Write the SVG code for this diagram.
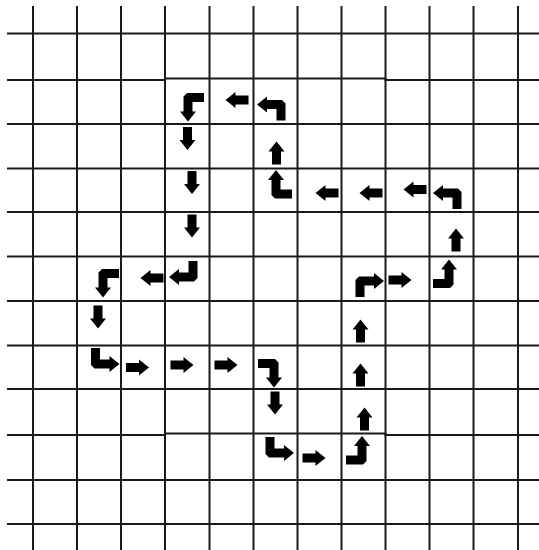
<svg xmlns="http://www.w3.org/2000/svg" xmlns:xlink="http://www.w3.org/1999/xlink" width="539" height="550" viewBox="0 0 539 550">
<style>
.g line, .g polyline { stroke: #1a1a1a; stroke-width: 2; fill: none; }
.a { fill: #000; }
</style>
<defs>
<path id="st" d="M-11.5,-4.5 H1.5 V-8 L11.5,0 L1.5,8 V4.5 H-11.5 Z"/>
<path id="cn" d="M-4.5,-16 H4.5 V-4.5 H14 V-8 L24,0 L14,8 V4.5 H-1 L-4.5,1 Z"/>
</defs>
<rect width="539" height="550" fill="#fff"/>
<g id="grid" class="g">
<line x1="33" y1="6" x2="33" y2="550"/>
<line x1="77" y1="6" x2="77" y2="550"/>
<line x1="121" y1="6" x2="121" y2="550"/>
<line x1="165" y1="6" x2="165" y2="550"/>
<line x1="209.5" y1="6" x2="209.5" y2="550"/>
<line x1="253.5" y1="6" x2="253.5" y2="550"/>
<line x1="297.5" y1="6" x2="297.5" y2="550"/>
<line x1="341.5" y1="6" x2="341.5" y2="550"/>
<line x1="385.5" y1="6" x2="385.5" y2="550"/>
<line x1="429.5" y1="6" x2="429.5" y2="550"/>
<line x1="473.5" y1="6" x2="473.5" y2="550"/>
<line x1="518" y1="6" x2="518" y2="550"/>
<line x1="7" y1="33.5" x2="539" y2="33.5"/>
<polyline points="7,80 165,80 165,78.5 385.5,78.5 385.5,80 539,80"/>
<line x1="7" y1="124" x2="539" y2="124"/>
<line x1="7" y1="168.5" x2="539" y2="168.5"/>
<line x1="7" y1="212" x2="539" y2="212"/>
<line x1="7" y1="256.5" x2="539" y2="256.5"/>
<line x1="7" y1="301" x2="539" y2="301"/>
<line x1="7" y1="345.5" x2="539" y2="345.5"/>
<line x1="7" y1="389" x2="539" y2="389"/>
<polyline points="7,435 165,435 165,433.5 385.5,433.5 385.5,435 539,435"/>
<line x1="7" y1="480" x2="539" y2="480"/>
<line x1="7" y1="524" x2="539" y2="524"/>
</g>
<g id="arrows" class="a">
<g id="r1c5"><use xlink:href="#cn" transform="translate(281,104.5) rotate(180)"/></g>
<g id="r1c4"><use xlink:href="#st" transform="translate(237,100) rotate(180)"/></g>
<g id="r1c3"><use xlink:href="#cn" transform="translate(188,97.5) rotate(90)"/></g>
<g id="r2c3"><use xlink:href="#st" transform="translate(187.5,138.5) rotate(90)"/></g>
<g id="r3c3"><use xlink:href="#st" transform="translate(192,182.5) rotate(90)"/></g>
<g id="r4c3"><use xlink:href="#st" transform="translate(192,226) rotate(90)"/></g>
<g id="r5c3"><use xlink:href="#cn" transform="translate(193,277) scale(-1,1)"/></g>
<g id="r5c2"><use xlink:href="#st" transform="translate(152,278) rotate(180)"/></g>
<g id="r5c1"><use xlink:href="#cn" transform="translate(103,273.5) rotate(90)"/></g>
<g id="r6c1"><use xlink:href="#st" transform="translate(98,317) rotate(90)"/></g>
<g id="r7c1"><use xlink:href="#cn" transform="translate(95.5,364)"/></g>
<g id="r7c2"><use xlink:href="#st" transform="translate(137.5,367.5)"/></g>
<g id="r7c3"><use xlink:href="#st" transform="translate(182,365)"/></g>
<g id="r7c4"><use xlink:href="#st" transform="translate(226,365)"/></g>
<g id="r7c5"><use xlink:href="#cn" transform="translate(274,363.5) rotate(270) scale(-1,1)"/></g>
<g id="r8c5"><use xlink:href="#st" transform="translate(275,403) rotate(90)"/></g>
<g id="r9c5"><use xlink:href="#cn" transform="translate(270,453)"/></g>
<g id="r9c6"><use xlink:href="#st" transform="translate(314,458)"/></g>
<g id="r9c7"><use xlink:href="#cn" transform="translate(362,460) rotate(270)"/></g>
<g id="r8c7"><use xlink:href="#st" transform="translate(364.5,419) rotate(270)"/></g>
<g id="r7c7"><use xlink:href="#st" transform="translate(360.5,375) rotate(270)"/></g>
<g id="r6c7"><use xlink:href="#st" transform="translate(360.5,331) rotate(270)"/></g>
<g id="r5c7"><use xlink:href="#cn" transform="translate(360,281) rotate(180) scale(-1,1)"/></g>
<g id="r5c8"><use xlink:href="#st" transform="translate(400,280)"/></g>
<g id="r5c9"><use xlink:href="#cn" transform="translate(449,283.5) rotate(270)"/></g>
<g id="r4c9"><use xlink:href="#st" transform="translate(456,240) rotate(270)"/></g>
<g id="r3c9"><use xlink:href="#cn" transform="translate(457,193) rotate(180)"/></g>
<g id="r3c8"><use xlink:href="#st" transform="translate(415,189.5) rotate(180)"/></g>
<g id="r3c7"><use xlink:href="#st" transform="translate(371,193) rotate(180)"/></g>
<g id="r3c6"><use xlink:href="#st" transform="translate(327,193) rotate(180)"/></g>
<g id="r3c5"><use xlink:href="#cn" transform="translate(276,194) rotate(90) scale(-1,1)"/></g>
<g id="r2c5"><use xlink:href="#st" transform="translate(276.5,153) rotate(270)"/></g>
</g>
</svg>
